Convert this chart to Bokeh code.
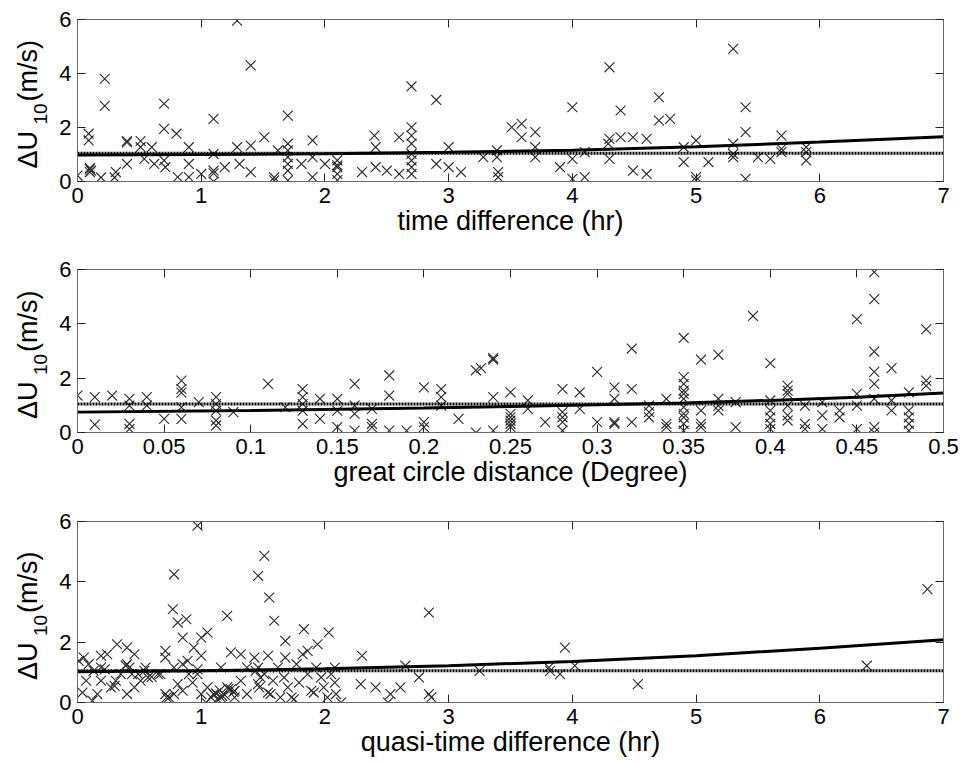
import math
from bokeh.plotting import figure
from bokeh.models import Range1d, FixedTicker, LinearAxis
from bokeh.layouts import column, row
from bokeh.core.properties import value
from bokeh.embed import file_html
from bokeh.resources import INLINE

FONT = "Liberation Sans"

# ---------------- data ----------------
# Panel 1: time difference (hr) vs dU10
t1_x = [0.0, 0.09, 0.09, 0.1, 0.1, 0.1, 0.11, 0.22, 0.22, 0.19, 0.3, 0.31, 0.4, 0.4, 0.4,
        0.51, 0.51, 0.54, 0.62, 0.6, 0.7, 0.7, 0.7, 0.71, 0.8, 0.81, 0.9, 0.9, 0.9, 1.0,
        1.1, 1.1, 1.1, 1.1, 1.1, 1.19, 1.29, 1.29, 1.31, 1.4, 1.4, 1.4, 1.51, 1.59, 1.59,
        1.62, 1.7, 1.7, 1.7, 1.7, 1.7, 1.7, 1.7, 1.81, 1.9, 1.9, 1.9, 2.0, 2.1, 2.1, 2.1,
        2.1, 2.1, 2.3, 2.4, 2.41, 2.41, 2.5, 2.6, 2.6, 2.7, 2.7, 2.7, 2.7, 2.7, 2.7, 2.7,
        2.7, 2.9, 2.9, 3.0, 3.0, 3.1, 3.28, 3.39, 3.39, 3.4, 3.4, 3.51, 3.59, 3.59, 3.7,
        3.7, 3.7, 3.9, 4.0, 4.0, 4.0, 4.1, 4.1, 4.3, 4.3, 4.3, 4.29, 4.39, 4.39, 4.49,
        4.49, 4.6, 4.6, 4.7, 4.7, 4.79, 4.9, 4.9, 5.0, 5.0, 5.0, 5.1, 5.3, 5.3, 5.3, 5.3,
        5.4, 5.4, 5.4, 5.5, 5.6, 5.69, 5.69, 5.69, 5.89, 5.89, 5.89]
t1_y = [0.22, 1.77, 1.52, 0.45, 0.35, 0.5, 0.4, 3.8, 2.8, 0.15, 0.15, 0.35, 1.5, 1.45, 0.65,
        1.5, 1.27, 0.84, 0.65, 1.27, 2.88, 1.95, 0.78, 0.53, 1.77, 0.16, 1.27, 0.65, 0.16, 0.28,
        2.32, 1.02, 0.3, 0.4, 0.0, 0.53, 5.96, 1.27, 0.65, 4.3, 1.33, 0.35, 1.64, 0.15, 0.04,
        1.15, 2.44, 1.4, 1.15, 0.9, 0.65, 0.4, 0.04, 0.65, 1.52, 0.16, 0.9, 0.65, 0.6, 0.53,
        0.28, 0.05, 0.78, 0.35, 1.7, 1.27, 0.53, 0.4, 1.64, 0.28, 3.52, 2.01, 1.7, 1.4, 1.02,
        0.78, 0.53, 0.28, 3.02, 0.65, 1.27, 0.53, 0.35, 0.9, 1.15, 0.9, 0.35, 0.16, 2.01,
        2.14, 1.64, 1.83, 1.27, 0.9, 0.53, 2.75, 0.84, 0.1, 0.16, 1.09, 4.23, 1.58, 0.84,
        1.4, 2.63, 1.64, 1.64, 0.4, 1.58, 0.28, 3.12, 2.26, 2.32, 1.27, 0.72, 1.52, 0.16,
        0.04, 0.72, 4.91, 1.4, 1.02, 0.9, 2.75, 1.83, 0.1, 0.9, 0.84, 1.7, 1.21, 1.09, 1.27,
        1.09, 0.78]

# Panel 2: great circle distance (Degree) vs dU10
t2_x = [0.0, 0.01, 0.01, 0.02, 0.03, 0.03, 0.03, 0.03, 0.04, 0.04, 0.05, 0.06, 0.06, 0.06,
        0.06, 0.06, 0.07, 0.08, 0.08, 0.08, 0.08, 0.08, 0.09, 0.11, 0.12, 0.13, 0.13, 0.13,
        0.13, 0.13, 0.14, 0.14, 0.15, 0.15, 0.15, 0.16, 0.16, 0.16, 0.16, 0.17, 0.17, 0.17,
        0.18, 0.18, 0.18, 0.19, 0.2, 0.2, 0.2, 0.21, 0.21, 0.21, 0.22, 0.23, 0.23, 0.233,
        0.24, 0.24, 0.24, 0.24, 0.25, 0.25, 0.25, 0.25, 0.25, 0.25, 0.26, 0.26, 0.27, 0.28,
        0.28, 0.28, 0.28, 0.28, 0.29, 0.29, 0.3, 0.3, 0.31, 0.31, 0.31, 0.31, 0.32, 0.32,
        0.32, 0.33, 0.33, 0.33, 0.34, 0.34, 0.34, 0.35, 0.35, 0.35, 0.35, 0.35, 0.35, 0.35,
        0.35, 0.35, 0.35, 0.35, 0.36, 0.36, 0.36, 0.36, 0.37, 0.37, 0.37, 0.37, 0.38, 0.38,
        0.39, 0.4, 0.4, 0.4, 0.4, 0.4, 0.4, 0.41, 0.41, 0.41, 0.41, 0.41, 0.41, 0.42, 0.42,
        0.42, 0.43, 0.43, 0.43, 0.44, 0.44, 0.45, 0.45, 0.45, 0.45, 0.46, 0.46, 0.46, 0.46,
        0.46, 0.46, 0.46, 0.46, 0.47, 0.47, 0.47, 0.48, 0.48, 0.48, 0.48, 0.48, 0.49, 0.49,
        0.49]
t2_y = [1.36, 1.3, 0.29, 1.36, 1.24, 0.99, 0.32, 0.13, 1.3, 0.99, 0.5, 1.91, 1.6, 1.47,
        0.93, 0.5, 1.12, 1.3, 1.05, 0.8, 0.44, 0.26, 0.75, 1.79, 0.93, 1.6, 1.3, 1.05, 0.8,
        0.32, 1.24, 0.5, 1.24, 0.8, 0.2, 1.79, 0.99, 0.69, 0.07, 0.87, 0.32, 0.2, 2.1, 1.36,
        0.07, 0.07, 1.66, 0.38, 0.2, 1.6, 1.3, 0.99, 0.5, 2.29, 0.0, 2.37, 2.74, 2.68, 1.3,
        0.07, 1.48, 0.69, 0.56, 0.44, 0.32, 0.2, 1.18, 0.87, 0.38, 1.6, 0.75, 0.56, 0.38,
        0.07, 1.48, 0.87, 2.23, 0.38, 1.66, 1.24, 0.38, 0.32, 3.09, 1.6, 0.38, 0.99, 0.75,
        0.56, 1.24, 0.32, 0.2, 3.48, 2.04, 1.79, 1.54, 1.42, 1.24, 0.93, 0.69, 0.56, 0.32,
        0.07, 2.68, 0.81, 0.32, 0.2, 2.86, 1.24, 0.99, 0.81, 1.12, 0.2, 4.29, 2.55, 1.18,
        0.81, 0.56, 0.32, 0.13, 1.72, 1.54, 1.42, 0.99, 0.63, 0.44, 0.99, 0.32, 0.13, 1.12,
        0.63, 0.13, 0.81, 0.56, 4.17, 1.42, 0.99, 0.13, 5.9, 4.91, 2.98, 2.23, 1.79, 1.24,
        0.2, 0.0, 2.37, 1.18, 0.81, 1.48, 0.81, 0.56, 0.32, 0.07, 3.8, 1.91, 1.72]

# Panel 3: quasi-time difference (hr) vs dU10
t3_x = [0.01, 0.04, 0.09, 0.12, 0.19, 0.19, 0.22, 0.16, 0.24, 0.32, 0.31, 0.4, 0.4, 0.4,
        0.42, 0.46, 0.49, 0.51, 0.55, 0.65, 0.71, 0.71, 0.71, 0.72, 0.78, 0.77, 0.81, 0.88,
        0.78, 0.81, 0.85, 0.85, 0.94, 0.97, 0.97, 1.0, 1.05, 1.0, 1.04, 1.08, 1.1, 1.16,
        1.16, 1.21, 1.21, 1.24, 1.27, 1.32, 1.37, 1.46, 1.51, 1.55, 1.59, 1.43, 1.46, 1.46,
        1.51, 1.54, 1.56, 1.68, 1.68, 1.7, 1.73, 1.83, 1.82, 1.86, 1.89, 1.94, 1.97, 2.03,
        2.05, 2.08, 2.13, 2.3, 2.29, 2.41, 2.51, 2.53, 2.61, 2.65, 2.76, 2.84, 2.84, 2.86,
        3.25, 3.81, 3.82, 3.9, 3.94, 4.02, 4.53, 6.38, 6.87,
        0.05, 0.07, 0.13, 0.19, 0.27, 0.35, 0.39, 0.44, 0.46, 0.54, 0.57, 0.67, 0.74, 0.78,
        0.85, 0.89, 0.9, 0.93, 0.97, 1.0, 1.05, 1.13, 1.17, 1.24, 1.27, 1.32, 1.37, 1.44,
        1.47, 1.48, 1.54, 1.58, 1.62, 1.64, 1.67, 1.75, 1.77, 1.79, 1.86, 1.91, 1.93, 1.99,
        2.02, 2.08, 2.09, 1.12, 1.15, 1.19, 1.22, 1.26, 0.6, 0.3]
t3_y = [1.38, 0.33, 1.27, 0.06, 0.72, 1.55, 1.1, 0.28, 1.6, 1.93, 0.72, 1.82, 1.27, 0.28,
        1.16, 1.6, 0.94, 0.72, 1.16, 0.94, 1.71, 1.49, 0.28, 0.17, 4.25, 3.09, 2.65, 2.76,
        1.16, 0.61, 2.15, 1.27, 1.82, 5.86, 0.94, 2.15, 2.32, 0.28, 0.0, 0.17, 0.28, 0.17,
        1.16, 2.87, 0.5, 0.44, 0.17, 1.6, 1.16, 4.2, 4.86, 3.48, 2.71, 1.49, 1.16, 0.61,
        0.94, 1.55, 0.28, 2.04, 1.49, 0.5, 0.17, 2.43, 1.6, 1.71, 0.39, 1.93, 0.83, 2.32,
        0.94, 1.16, 0.0, 1.55, 0.61, 0.5, 0.0, 0.28, 0.5, 1.22, 0.83, 2.98, 0.28, 0.17,
        1.05, 1.16, 1.05, 0.94, 1.82, 1.22, 0.61, 1.22, 3.76,
        1.49, 0.72, 1.05, 1.16, 0.5, 0.94, 1.22, 0.94, 0.5, 1.05, 0.83, 0.94, 0.17, 0.28,
        0.39, 1.38, 0.94, 0.66, 1.1, 1.55, 0.5, 0.11, 0.22, 1.66, 0.39, 0.72, 0.28, 1.05,
        0.5, 0.83, 0.33, 0.72, 1.16, 0.17, 0.83, 0.11, 1.27, 0.66, 0.94, 0.33, 1.16, 0.5,
        0.17, 0.66, 0.28, 0.3, 0.4, 0.25, 0.45, 0.35, 0.85, 0.55]

# fitted curves and mean lines
fit1_x = [0, 1, 2, 3, 4, 5, 6, 7]
fit1_y = [0.98, 1.0, 1.03, 1.08, 1.16, 1.29, 1.46, 1.66]
fit2_x = [0, 0.1, 0.2, 0.25, 0.3, 0.35, 0.4, 0.45, 0.5]
fit2_y = [0.75, 0.81, 0.9, 0.96, 1.02, 1.09, 1.18, 1.3, 1.45]
fit3_x = [0, 1, 2, 3, 4, 5, 6, 7]
fit3_y = [1.02, 1.05, 1.12, 1.22, 1.36, 1.55, 1.8, 2.08]
mean_level = 1.05

# ticks
ticks_hr = [0, 1, 2, 3, 4, 5, 6, 7]
ticks_hr_labels = ["0", "1", "2", "3", "4", "5", "6", "7"]
ticks_deg = [0, 0.05, 0.1, 0.15, 0.2, 0.25, 0.3, 0.35, 0.4, 0.45, 0.5]
ticks_deg_labels = ["0", "0.05", "0.1", "0.15", "0.2", "0.25", "0.3", "0.35", "0.4", "0.45", "0.5"]
ticks_y = [0, 2, 4, 6]
ticks_y_labels = ["0", "2", "4", "6"]

xlabels = ["time difference (hr)", "great circle distance (Degree)", "quasi-time difference (hr)"]
ylabel_parts = ["\u0394U", "10", "(m/s)"]

FRAME_COL = "#6a6a6a"
LAB_W = 50


def ylabel_fig(height, top, frame_h):
    bottom = height - top - frame_h
    lf = figure(width=LAB_W, height=height, output_backend="svg", toolbar_location=None,
                x_range=Range1d(0, LAB_W), y_range=Range1d(0, frame_h),
                min_border_left=0, min_border_right=0, min_border_top=top,
                min_border_bottom=bottom, x_axis_location=None, y_axis_location=None)
    lf.grid.visible = False
    lf.outline_line_color = None
    # frame spans canvas rows [top, top+frame_h]; data y = frame bottom - canvas row
    fb = top + frame_h
    c = top + frame_h / 2.0
    ang = math.pi / 2
    lf.text(x=[27], y=[fb - (c + 68)], text=[ylabel_parts[0]], angle=ang,
            text_font=value(FONT), text_font_size=value("27px"), text_align="left",
            text_baseline="middle", text_color="black")
    lf.text(x=[40], y=[fb - (c + 24)], text=[ylabel_parts[1]], angle=ang,
            text_font=value(FONT), text_font_size=value("19px"), text_align="left",
            text_baseline="middle", text_color="black")
    lf.text(x=[27], y=[fb - (c + 1)], text=[ylabel_parts[2]], angle=ang,
            text_font=value(FONT), text_font_size=value("27px"), text_align="left",
            text_baseline="middle", text_color="black")
    return lf


def make_panel(xs, ys, fx, fy, xmax, xticks, xtick_labels, xlabel, height, top, frame_h):
    bottom = height - top - frame_h
    p = figure(width=961 - LAB_W, height=height, output_backend="svg", toolbar_location=None,
               x_range=Range1d(0, xmax), y_range=Range1d(0, 6),
               min_border_left=77 - LAB_W, min_border_right=18, min_border_top=top,
               min_border_bottom=bottom, x_axis_location=None, y_axis_location=None)
    p.grid.visible = False
    p.outline_line_color = FRAME_COL
    p.outline_line_width = 1

    xfmt = dict(zip(xticks, xtick_labels))
    yfmt = dict(zip(ticks_y, ticks_y_labels))

    def style(ax):
        ax.axis_line_color = FRAME_COL
        ax.major_tick_in = 8
        ax.major_tick_out = 0
        ax.major_tick_line_color = "#222222"
        ax.minor_tick_line_color = None
        ax.major_label_text_font = FONT
        ax.major_label_text_font_size = "22px"
        ax.major_label_text_color = "black"
        ax.axis_label_text_font = FONT
        ax.axis_label_text_font_size = "27px"
        ax.axis_label_text_font_style = "normal"
        ax.axis_label_text_color = "black"

    xb = LinearAxis(ticker=FixedTicker(ticks=xticks), axis_label=xlabel)
    xb.major_label_overrides = xfmt
    style(xb)
    xb.major_label_standoff = 6
    xb.axis_label_standoff = 0
    p.add_layout(xb, "below")

    xt = LinearAxis(ticker=FixedTicker(ticks=xticks))
    style(xt)
    xt.major_label_text_font_size = "0px"
    xt.major_label_text_color = None
    xt.major_label_standoff = 0
    p.add_layout(xt, "above")

    yl = LinearAxis(ticker=FixedTicker(ticks=ticks_y))
    yl.major_label_overrides = yfmt
    style(yl)
    yl.major_label_standoff = 6
    p.add_layout(yl, "left")

    yr = LinearAxis(ticker=FixedTicker(ticks=ticks_y))
    style(yr)
    yr.major_label_text_font_size = "0px"
    yr.major_label_text_color = None
    yr.major_label_standoff = 0
    p.add_layout(yr, "right")

    p.scatter(xs, ys, marker="x", size=14, line_color="#2a2a2a", line_width=1.1)
    p.line([0, xmax], [mean_level, mean_level], line_color="black", line_width=3,
           line_dash="2 1")
    p.line(fx, fy, line_color="black", line_width=3)
    return row(ylabel_fig(height, top, frame_h), p, spacing=0)


r1 = make_panel(t1_x, t1_y, fit1_x, fit1_y, 7, ticks_hr, ticks_hr_labels, xlabels[0], 250, 19, 162)
r2 = make_panel(t2_x, t2_y, fit2_x, fit2_y, 0.5, ticks_deg, ticks_deg_labels, xlabels[1], 250, 19, 163)
r3 = make_panel(t3_x, t3_y, fit3_x, fit3_y, 7, ticks_hr, ticks_hr_labels, xlabels[2], 264, 21, 181)

layout = column(r1, r2, r3, spacing=0)
open("out.html", "w").write(file_html(layout, INLINE))
